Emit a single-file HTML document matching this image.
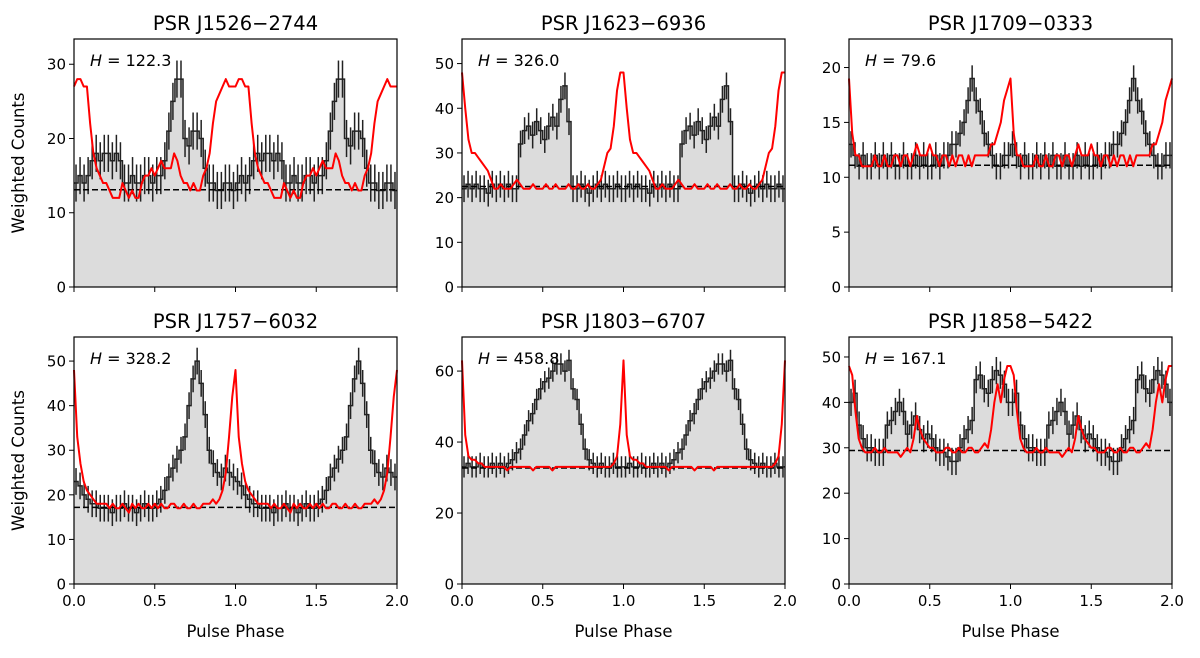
<!DOCTYPE html>
<html><head><meta charset="utf-8"><style>
body{margin:0;background:#fff;width:1200px;height:653px;overflow:hidden}
svg{font-family:"DejaVu Sans","Liberation Sans",sans-serif}
</style></head><body>
<svg id="fig" width="1200" height="653" xmlns="http://www.w3.org/2000/svg"></svg>
<script>
const names=["PSR J1526\u22122744","PSR J1623\u22126936","PSR J1709\u22120333","PSR J1757\u22126032","PSR J1803\u22126707","PSR J1858\u22125422"];
const hvals=["122.3","326.0","79.6","328.2","458.8","167.1"];
const ymaxs=[33.4,55.5,22.6,55.4,69.6,54.4];
const yticks=[[0,10,20,30],[0,10,20,30,40,50],[0,5,10,15,20],[0,10,20,30,40,50],[0,20,40,60],[0,10,20,30,40,50]];
const baselines=[13.1,22.5,11.1,17.2,32.7,29.4];
const errs=[2.5,3,1.2,3,3,3];
const black1=[14,15,14,15,17,18,17,18,18,17,18,17,14,14,15,14,14,15,15,14,15,15,17,21,25,28,28,20,19,21,21,20,16,14,14,13,13,14,14,13];
const black2=[22,23,22,23,22,22,21,23,22,23,22,23,22,22,32,35,36,34,37,35,33,36,38,36,42,45,37,22,22,23,22,21,22,23,22,23,22,22,23,22];
const black3=[13,12,11,12,11,11,12,11,12,11,12,11,11,12,11,11,12,11,12,11,11,12,11,12,12,13,13,14,15,17,19,17,16,14,13,12,11,11,12,12];
const black4=[23,22,20,19,18,18,17,17,17,16,17,17,18,17,17,16,17,18,17,17,18,19,21,24,26,28,30,33,40,46,50,45,38,30,27,25,24,26,25,24];
const black5=[33,34,33,33,34,33,33,34,33,34,33,34,35,37,38,42,46,48,52,55,57,58,60,62,62,60,63,55,52,45,38,35,34,33,34,33,33,34,33,33];
const black6=[40,42,35,32,30,30,29,29,29,35,36,38,40,38,33,35,37,34,32,33,32,30,29,29,28,27,27,30,32,34,36,45,46,43,42,45,47,46,44,40];
const red1=[27,28,28,27,27,22,18,16,15,14,14,13,12,12,12,14,13,12,13,12,12,14,15,15,16,15,16,17,16,16,16,18,17,15,14,14,13,14,13,13,15,16,18,22,25,26,27,28,27,27];
const red2=[48,40,33,30,30,29,28,27,26,24,22,22,23,22,22,22,23,24,23,22,22,22,23,22,22,22,23,22,22,23,22,22,22,23,22,22,23,22,22,23,22,22,23,24,27,30,31,36,44,48];
const red3=[19,14,12,12,11,11,11,11,12,11,11,12,11,11,12,12,11,12,12,11,12,13,12,12,12,13,12,12,11,12,12,11,12,11,12,12,11,12,11,12,12,12,12,12,13,13,14,15,17,18];
const red4=[48,33,27,23,21,20,19,18,18,18,18,17,18,17,17,18,17,16,18,17,18,17,17,18,17,18,17,18,17,17,18,18,17,17,18,17,17,18,17,17,18,18,18,19,18,19,21,25,33,42];
const red5=[63,42,36,35,35,34,34,33,33,33,33,33,33,33,32,33,33,33,33,33,33,33,32,33,33,33,33,33,32,33,33,33,33,33,33,33,33,33,33,33,33,33,33,33,33,33,33,34,36,45];
const red6=[48,46,38,32,30,29,29,29,30,29,29,30,29,29,29,29,28,29,30,29,32,37,34,32,31,30,30,29,29,29,30,30,29,29,30,29,29,30,30,29,29,30,31,30,34,40,44,40,45,48];
const blacks=[black1,black2,black3,black4,black5,black6];
const reds=[red1,red2,red3,red4,red5,red6];
const xticks=[0,0.5,1,1.5,2];
const xtickLabels=["0.0","0.5","1.0","1.5","2.0"];

const NS="http://www.w3.org/2000/svg";
const svg=document.getElementById('fig');
function mk(tag,attrs,parent,text){const e=document.createElementNS(NS,tag);for(const k in attrs)e.setAttribute(k,attrs[k]);if(text!==undefined)e.textContent=text;(parent||svg).appendChild(e);return e;}
const colX=[74,462,849], rowY=[[39,287],[337,584]], W=323;
for(let p=0;p<6;p++){
  const c=p%3,r=Math.floor(p/3);
  const x0=colX[c],x1=x0+W,yt=rowY[r][0],yb=rowY[r][1];
  const xs=v=>x0+v/2*W, ys=v=>yb-v/ymaxs[p]*(yb-yt);
  const g=mk('g',{});  
  const b=blacks[p],full=b.concat(b),N=full.length;
  let d='M'+xs(0)+','+ys(0);
  full.forEach((v,i)=>{d+=' L'+xs(i*2/N)+','+ys(v)+' L'+xs((i+1)*2/N)+','+ys(v);});
  d+=' L'+xs(2)+','+ys(0)+'Z';
  const f=mk('path',{d:d,fill:'#dcdcdc',stroke:'none'},g);
  
  full.forEach((v,i)=>{const cx=xs((i+0.5)*2/N);const e=mk('line',{x1:cx,x2:cx,y1:ys(v-errs[p]),y2:ys(v+errs[p]),stroke:'#222','stroke-width':1.5},g);
    });
  let s='';full.forEach((v,i)=>{s+=(i?' L':'M')+xs(i*2/N)+','+ys(v)+' L'+xs((i+1)*2/N)+','+ys(v);});
  const st=mk('path',{d:s,fill:'none',stroke:'#222','stroke-width':1.5},g);
  
  const bl=mk('line',{x1:x0,x2:x1,y1:ys(baselines[p]),y2:ys(baselines[p]),stroke:'#000','stroke-width':1.5,'stroke-dasharray':'6,3'},g);
  
  const rr=reds[p].concat(reds[p]);const M=rr.length;
  let rd='';rr.forEach((v,i)=>{rd+=(i?' L':'M')+xs(i*2/M)+','+ys(v);});
  rd+=' L'+xs(2)+','+ys(reds[p][0]);
  const rl=mk('path',{d:rd,fill:'none',stroke:'#ff0000','stroke-width':2,'stroke-linejoin':'round'},g);
  
  const fr=mk('rect',{x:x0,y:yt,width:W,height:yb-yt,fill:'none',stroke:'#000','stroke-width':1.2},g);
  
  yticks[p].forEach(t=>{const y=ys(t);mk('line',{x1:x0-5,x2:x0,y1:y,y2:y,stroke:'#000','stroke-width':1},g);
    const tl=mk('text',{x:x0-8,y:y+5.5,'text-anchor':'end','font-size':15},g,String(t));
    });
  xticks.forEach((t,i)=>{const x=xs(t);mk('line',{x1:x,x2:x,y1:yb,y2:yb+5,stroke:'#000','stroke-width':1},g);
    if(r===1){const tl=mk('text',{x:x,y:yb+22,'text-anchor':'middle','font-size':15},g,xtickLabels[i]);
      }});
  const ti=mk('text',{x:x0+W/2,y:yt-9,'text-anchor':'middle','font-size':19.5},g,names[p]);
  
  const h=mk('text',{x:x0+16,y:yt+27,'font-size':16},g);
  
  mk('tspan',{'font-style':'italic'},h,'H');mk('tspan',{},h,' = '+hvals[p]);
  if(r===1){const xl=mk('text',{x:x0+W/2,y:637,'text-anchor':'middle','font-size':16.5},g,'Pulse Phase');
    }
  if(c===0){const yc=(yt+yb)/2;const yl=mk('text',{x:24,y:yc,'text-anchor':'middle','font-size':16.5,transform:'rotate(-90 24 '+yc+')'},g,'Weighted Counts');
    }
}
</script>
</body></html>
